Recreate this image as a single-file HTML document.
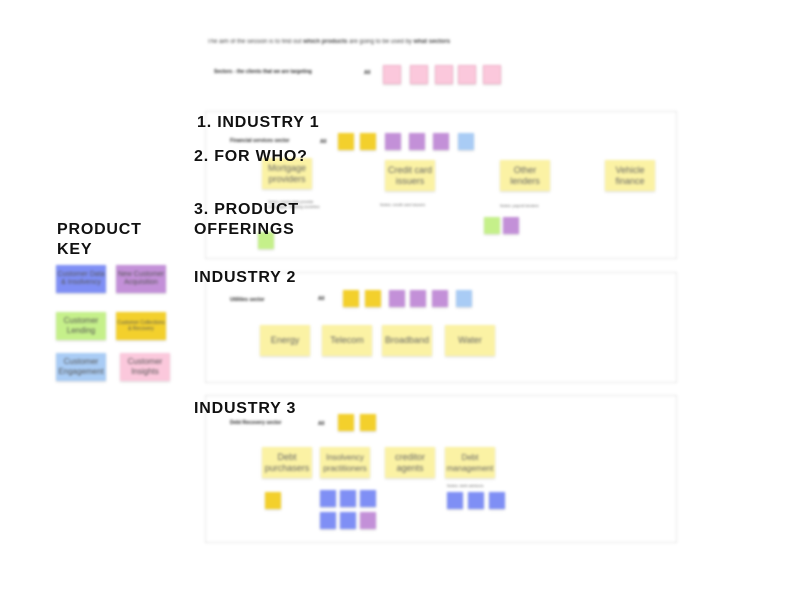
<!DOCTYPE html>
<html><head><style>
body{margin:0;width:807px;height:606px;background:#fff;position:relative;overflow:hidden;font-family:"Liberation Sans",sans-serif}
.b{position:absolute;inset:0;filter:blur(1.2px)}
.a{position:absolute}
.n{position:absolute;display:flex;align-items:center;justify-content:center;text-align:center;color:#555;box-shadow:0 1px 2px rgba(0,0,0,.15)}
.s{width:16px;height:17px;font-size:3px}
.Y{background:#f3d02c}.P{background:#c390d8}.B{background:#7f8ff5}.L{background:#a9ccf5}.G{background:#c5f08a}.K{background:#fbc8dc}.W{background:#fbf2a4}
.big{width:50px;height:31px;font-size:9px;line-height:11px;color:#666}
.f{position:absolute;border:1.5px solid #e6e6e6;left:205px;width:470px}
.t{font-size:5px;color:#222;font-weight:bold}
.k{position:absolute;width:50px;height:28px;font-size:7px;line-height:8px}
.L1{position:absolute;font-weight:bold;font-size:16px;color:#111;letter-spacing:.8px}
</style></head><body>
<div class="b">
<div class="a" style="left:207px;top:39px;font-size:6px;color:#444">The aim of the session is to find out <b>which products</b> are going to be used by <b>what sectors</b></div>
<div class="a t" style="left:214px;top:69px">Sectors - the clients that we are targeting</div>
<div class="a t" style="left:364px;top:70px">All</div>
<div class="n s K" style="left:383px;top:65px;border:1px solid #f0b0c8"></div><div class="n s K" style="left:410px;top:65px;border:1px solid #f0b0c8"></div><div class="n s K" style="left:435px;top:65px;border:1px solid #f0b0c8"></div><div class="n s K" style="left:458px;top:65px;border:1px solid #f0b0c8"></div><div class="n s K" style="left:483px;top:65px;border:1px solid #f0b0c8"></div>

<div class="f" style="top:111px;height:146px"></div>
<div class="f" style="top:272px;height:109px"></div>
<div class="f" style="top:395px;height:146px"></div>

<div class="a t" style="left:230px;top:138px">Financial services sector</div>
<div class="a t" style="left:320px;top:139px">All</div>
<div class="n s Y" style="left:338px;top:133px"></div><div class="n s Y" style="left:360px;top:133px"></div>
<div class="n s P" style="left:385px;top:133px"></div><div class="n s P" style="left:409px;top:133px"></div><div class="n s P" style="left:433px;top:133px"></div><div class="n s L" style="left:458px;top:133px"></div>
<div class="n big W" style="left:262px;top:158px">Mortgage providers</div>
<div class="n big W" style="left:385px;top:160px">Credit card issuers</div>
<div class="n big W" style="left:500px;top:160px">Other lenders</div>
<div class="n big W" style="left:605px;top:160px">Vehicle finance</div>
<div class="a" style="left:268px;top:199px;font-size:4px;color:#666">Notes: banks that provide<br>mortgages, building societies</div>
<div class="a" style="left:380px;top:202px;font-size:4px;color:#666">Notes: credit card issuers</div>
<div class="a" style="left:500px;top:203px;font-size:4px;color:#666">Notes: payroll lenders</div>
<div class="n s G" style="left:258px;top:232px"></div>
<div class="n s G" style="left:484px;top:217px"></div><div class="n s P" style="left:503px;top:217px"></div>

<div class="a t" style="left:230px;top:297px">Utilities sector</div>
<div class="a t" style="left:318px;top:296px">All</div>
<div class="n s Y" style="left:343px;top:290px"></div><div class="n s Y" style="left:365px;top:290px"></div>
<div class="n s P" style="left:389px;top:290px"></div><div class="n s P" style="left:410px;top:290px"></div><div class="n s P" style="left:432px;top:290px"></div><div class="n s L" style="left:456px;top:290px"></div>
<div class="n big W" style="left:260px;top:325px">Energy</div>
<div class="n big W" style="left:322px;top:325px">Telecom</div>
<div class="n big W" style="left:382px;top:325px">Broadband</div>
<div class="n big W" style="left:445px;top:325px">Water</div>

<div class="a t" style="left:230px;top:420px">Debt Recovery sector</div>
<div class="a t" style="left:318px;top:421px">All</div>
<div class="n s Y" style="left:338px;top:414px"></div><div class="n s Y" style="left:360px;top:414px"></div>
<div class="n big W" style="left:262px;top:447px">Debt purchasers</div>
<div class="n big W" style="left:320px;top:447px;font-size:8px">Insolvency practitioners</div>
<div class="n big W" style="left:385px;top:447px">creditor agents</div>
<div class="n big W" style="left:445px;top:447px;font-size:8px">Debt management</div>
<div class="n s Y" style="left:265px;top:492px"></div>
<div class="n s B" style="left:320px;top:490px"></div><div class="n s B" style="left:340px;top:490px"></div><div class="n s B" style="left:360px;top:490px"></div>
<div class="n s B" style="left:320px;top:512px"></div><div class="n s B" style="left:340px;top:512px"></div><div class="n s P" style="left:360px;top:512px"></div>
<div class="a" style="left:447px;top:483px;font-size:4px;color:#666">Notes: debt advisors</div>
<div class="n s B" style="left:447px;top:492px"></div><div class="n s B" style="left:468px;top:492px"></div><div class="n s B" style="left:489px;top:492px"></div>

<div class="n k B" style="left:56px;top:265px">Customer Data &amp; Insolvency</div>
<div class="n k P" style="left:116px;top:265px">New Customer Acquisition</div>
<div class="n k G" style="left:56px;top:312px;font-size:8px;line-height:10px">Customer Lending</div>
<div class="n k Y" style="left:116px;top:312px;font-size:5px;line-height:6px">Customer Collections &amp; Recovery</div>
<div class="n k L" style="left:56px;top:353px;font-size:8px;line-height:10px">Customer Engagement</div>
<div class="n k K" style="left:120px;top:353px;font-size:8px;line-height:10px">Customer Insights</div>
</div>

<div class="L1" style="left:57px;top:220px;line-height:20px">PRODUCT<br>KEY</div>
<div class="L1" style="left:197px;top:114px">1. INDUSTRY 1</div>
<div class="L1" style="left:194px;top:148px">2. FOR WHO?</div>
<div class="L1" style="left:194px;top:200px;line-height:20px">3. PRODUCT<br>OFFERINGS</div>
<div class="L1" style="left:194px;top:269px">INDUSTRY 2</div>
<div class="L1" style="left:194px;top:400px">INDUSTRY 3</div>
</body></html>
